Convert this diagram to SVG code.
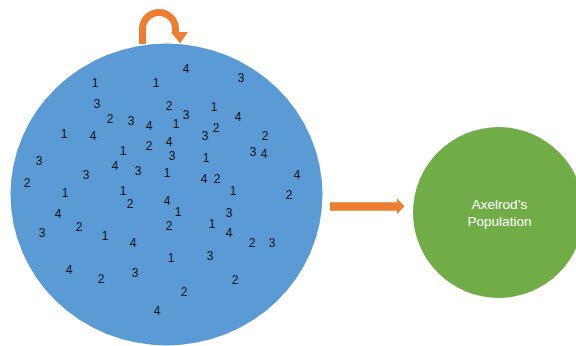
<svg xmlns="http://www.w3.org/2000/svg" width="576" height="346" viewBox="0 0 576 346">
<style>
.d{font-family:"Liberation Sans",Arial,sans-serif;font-size:12px;fill:#111;text-anchor:middle}
.w{font-family:"Liberation Sans",Arial,sans-serif;font-size:13.5px;fill:#fff;text-anchor:middle}
.arr{fill:#ED7D31}
</style>
<rect width="576" height="346" fill="#fff"/>
<g id="population">
<ellipse cx="166.5" cy="194.5" rx="156" ry="151" fill="#5B9BD5"/>
<g class="d">
<text x="95" y="87">1</text><text x="156" y="87">1</text><text x="186" y="73">4</text><text x="241" y="82">3</text>
<text x="97" y="108">3</text><text x="169" y="110">2</text><text x="186" y="119">3</text><text x="214" y="111">1</text><text x="238" y="121">4</text>
<text x="110" y="123">2</text><text x="131" y="125">3</text><text x="149" y="130">4</text><text x="176" y="128">1</text>
<text x="64" y="138">1</text><text x="93" y="140">4</text><text x="205" y="140">3</text><text x="216" y="132">2</text><text x="265" y="140">2</text>
<text x="169" y="146">4</text><text x="149" y="150">2</text><text x="123" y="155">1</text><text x="172" y="160">3</text><text x="206" y="162">1</text>
<text x="253" y="156">3</text><text x="264" y="158">4</text>
<text x="39" y="165">3</text><text x="115" y="170">4</text><text x="138" y="175">3</text><text x="167" y="177">1</text><text x="86" y="179">3</text>
<text x="204" y="183">4</text><text x="217" y="183">2</text><text x="297" y="179">4</text>
<text x="27" y="187">2</text><text x="65" y="197">1</text><text x="123" y="195">1</text><text x="130" y="208">2</text><text x="233" y="195">1</text><text x="289" y="199">2</text>
<text x="167" y="205">4</text><text x="178" y="216">1</text><text x="229" y="217">3</text><text x="58" y="218">4</text>
<text x="79" y="231">2</text><text x="169" y="230">2</text><text x="212" y="228">1</text>
<text x="42" y="237">3</text><text x="105" y="240">1</text><text x="133" y="247">4</text><text x="229" y="237">4</text><text x="252" y="247">2</text><text x="272" y="247">3</text>
<text x="171" y="262">1</text><text x="210" y="260">3</text>
<text x="69" y="274">4</text><text x="101" y="283">2</text><text x="135" y="277">3</text><text x="235" y="284">2</text>
<text x="184" y="296">2</text><text x="157" y="315">4</text>
</g>
</g>
<g id="axelrod">
<circle cx="498.5" cy="212.5" r="85.5" fill="#70AD47"/>
<text class="w" x="499.5" y="209">Axelrod’s</text>
<text class="w" x="499.5" y="225.5">Population</text>
</g>
<g id="connectors">
<path d="M142.5,44 V29 A16.5,16.5 0 0 1 175.5,29 V34" fill="none" stroke="#ED7D31" stroke-width="7"/>
<polygon class="arr" points="171,32 188,32 180,43.5"/>
<polygon class="arr" points="330,202.3 397,202.3 397,198.3 404.5,206.3 397,214.3 397,210.7 330,210.7"/>
</g>
</svg>
